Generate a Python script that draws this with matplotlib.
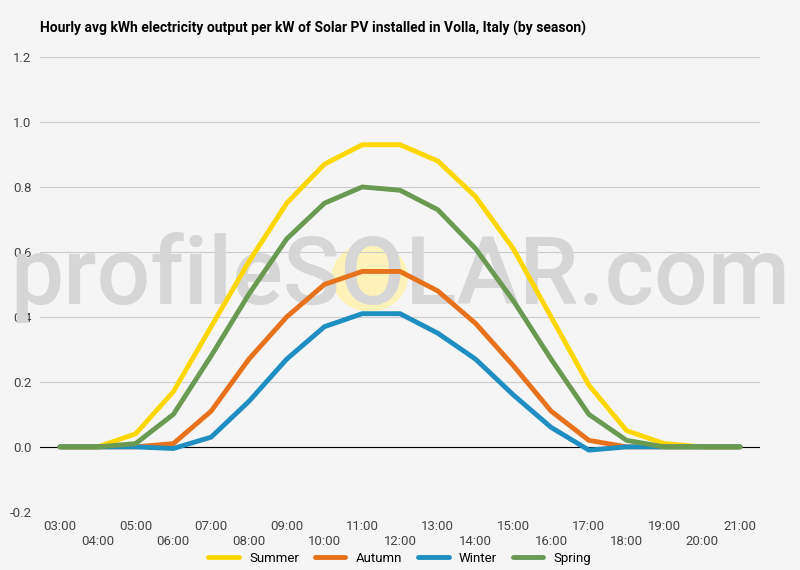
import matplotlib.pyplot as plt
import matplotlib.patches as mpatches

hours = list(range(3, 22))
hour_labels = [f"{h:02d}:00" for h in hours]
summer = [0, 0.0, 0.04, 0.17, 0.37, 0.57, 0.75, 0.87, 0.93, 0.93, 0.88, 0.77, 0.61, 0.40, 0.19, 0.05, 0.01, 0, 0]
autumn = [0, 0, 0, 0.01, 0.11, 0.27, 0.40, 0.50, 0.54, 0.54, 0.48, 0.38, 0.25, 0.11, 0.02, 0, 0, 0, 0]
winter = [0, 0, 0, -0.005, 0.03, 0.14, 0.27, 0.37, 0.41, 0.41, 0.35, 0.27, 0.16, 0.06, -0.01, 0, 0, 0, 0]
spring = [0, 0, 0.01, 0.10, 0.28, 0.47, 0.64, 0.75, 0.80, 0.79, 0.73, 0.61, 0.45, 0.27, 0.10, 0.02, 0, 0, 0]

series = [("Summer", summer, "#ffd700"), ("Autumn", autumn, "#e8711c"),
          ("Winter", winter, "#1f8fc1"), ("Spring", spring, "#6a9a52")]

bg = "#f5f5f5"
fig = plt.figure(figsize=(8, 5.7), dpi=100, facecolor=bg)
ax = fig.add_axes([0.05, 0.102, 0.9, 0.798], facecolor=bg)

fig.text(0.05, 0.95, "Hourly avg kWh electricity output per kW of Solar PV installed in Volla, Italy (by season)",
         fontsize=10, fontweight="bold", family="Roboto", va="center")

# watermark, behind the lines
ax.add_patch(mpatches.Ellipse((0.458, 0.516), 0.104, 0.147, transform=ax.transAxes,
                              color="#fff3b0", alpha=0.85, zorder=0.5))
ax.text(0.5, 0.516, "profileSOLAR.com", transform=ax.transAxes, fontsize=68, color="#d6d6d6",
        ha="center", va="center", family="Roboto", fontweight="medium", zorder=0.6, clip_on=False)

for name, vals, col in series:
    ax.plot(hours, vals, color=col, lw=3.5, label=name, solid_capstyle="round", zorder=3)

ax.set_xlim(2.47, 21.53)
ax.set_ylim(-0.2, 1.2)
ax.set_yticks([-0.2, 0, 0.2, 0.4, 0.6, 0.8, 1.0, 1.2])
ax.set_yticklabels(["-0.2", "0.0", "0.2", "0.4", "0.6", "0.8", "1.0", "1.2"])
ax.grid(axis="y", color="#cccccc", lw=0.8, zorder=0.4)
ax.set_axisbelow(True)
ax.axhline(0, color="black", lw=0.8, zorder=2)
ax.set_xticks(hours)
ax.set_xticklabels([l if i % 2 == 0 else "\n" + l for i, l in enumerate(hour_labels)])
ax.tick_params(length=0, labelsize=9.5, colors="#444444", pad=6)
for s in ax.spines.values():
    s.set_visible(False)
for t in ax.get_xticklabels() + ax.get_yticklabels():
    t.set_family("Roboto")

ax.legend(loc="upper center", bbox_to_anchor=(0.5, -0.062), ncol=4, frameon=False,
          handlelength=2.3, columnspacing=1.2, prop={"family": "Roboto", "size": 9.5})

fig.savefig("out.png", dpi=100, facecolor=bg)
